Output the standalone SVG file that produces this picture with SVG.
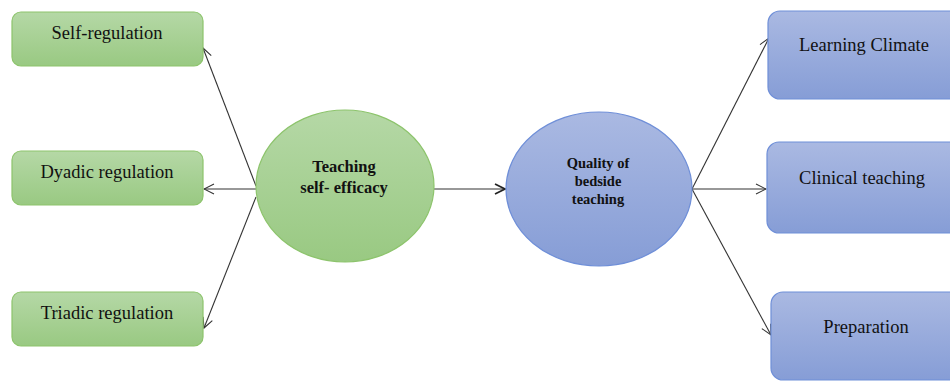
<svg xmlns="http://www.w3.org/2000/svg" width="950" height="381" viewBox="0 0 950 381">
<style>
.gbox{fill:url(#gg);stroke:#8dc46c;stroke-width:1.2}
.bbox{fill:url(#bg);stroke:#6f8fd8;stroke-width:1.2}
.t{font-family:"Liberation Serif",serif;font-size:18.5px;fill:#111;text-anchor:middle}
.tb{font-family:"Liberation Serif",serif;font-weight:bold;fill:#111;text-anchor:middle}
.c{stroke:#333;stroke-width:1.1;fill:none}
</style>
<defs>
<linearGradient id="gg" x1="0" y1="0" x2="0" y2="1"><stop offset="0" stop-color="#b5d8a6"/><stop offset="1" stop-color="#99c982"/></linearGradient>
<linearGradient id="bg" x1="0" y1="0" x2="0" y2="1"><stop offset="0" stop-color="#aab9e2"/><stop offset="1" stop-color="#869dd6"/></linearGradient>
<marker id="ah" viewBox="0 0 12 12" refX="11" refY="6" markerWidth="12" markerHeight="12" markerUnits="userSpaceOnUse" orient="auto"><path d="M1,1 L11,6 L1,11" fill="none" stroke="#333" stroke-width="1.1"/></marker>
<marker id="ah2" viewBox="0 0 12 12" refX="11" refY="6" markerWidth="12" markerHeight="12" markerUnits="userSpaceOnUse" orient="auto"><path d="M1,1 L11,6 L1,11" fill="none" stroke="#222" stroke-width="1.8"/></marker>
</defs>
<g id="connectors">
<line class="c" x1="256" y1="186" x2="203" y2="48" marker-end="url(#ah)"/>
<line class="c" x1="256" y1="189" x2="204" y2="189" marker-end="url(#ah)"/>
<line class="c" x1="256" y1="197" x2="204" y2="328" marker-end="url(#ah)"/>
<line class="c" x1="434" y1="189" x2="505" y2="189" stroke="#222" stroke-width="2" marker-end="url(#ah2)"/>
<line class="c" x1="692" y1="189" x2="769" y2="38" marker-end="url(#ah)"/>
<line class="c" x1="692" y1="189" x2="766" y2="189" marker-end="url(#ah)"/>
<line class="c" x1="692" y1="189" x2="771" y2="335" marker-end="url(#ah)"/>
</g>
<g id="self-regulation"><rect class="gbox" x="12" y="12" width="191" height="54" rx="9"/><text class="t" x="107" y="39">Self-regulation</text></g>
<g id="dyadic-regulation"><rect class="gbox" x="12" y="151" width="191" height="54" rx="9"/><text class="t" x="107" y="178">Dyadic regulation</text></g>
<g id="triadic-regulation"><rect class="gbox" x="12" y="292" width="191" height="54" rx="9"/><text class="t" x="107" y="319">Triadic regulation</text></g>
<g id="teaching-self-efficacy"><ellipse cx="345" cy="186" rx="89" ry="76" fill="url(#gg)" stroke="#8dc46c" stroke-width="1.2"/><text class="tb" font-size="16.5" x="344" y="172">Teaching</text><text class="tb" font-size="16.5" x="344" y="193">self- efficacy</text></g>
<g id="quality-bedside-teaching"><ellipse cx="599" cy="189" rx="93" ry="77" fill="url(#bg)" stroke="#6f8fd8" stroke-width="1.2"/><text class="tb" font-size="14.5" x="598" y="168">Quality of</text><text class="tb" font-size="14.5" x="598" y="186">bedside</text><text class="tb" font-size="14.5" x="598" y="204">teaching</text></g>
<g id="learning-climate"><rect class="bbox" x="768" y="11" width="200" height="88" rx="12"/><text class="t" x="864" y="51">Learning  Climate</text></g>
<g id="clinical-teaching"><rect class="bbox" x="767" y="142" width="200" height="91" rx="12"/><text class="t" x="862" y="184">Clinical teaching</text></g>
<g id="preparation"><rect class="bbox" x="771" y="292" width="200" height="88" rx="12"/><text class="t" x="866" y="333">Preparation</text></g>
</svg>
